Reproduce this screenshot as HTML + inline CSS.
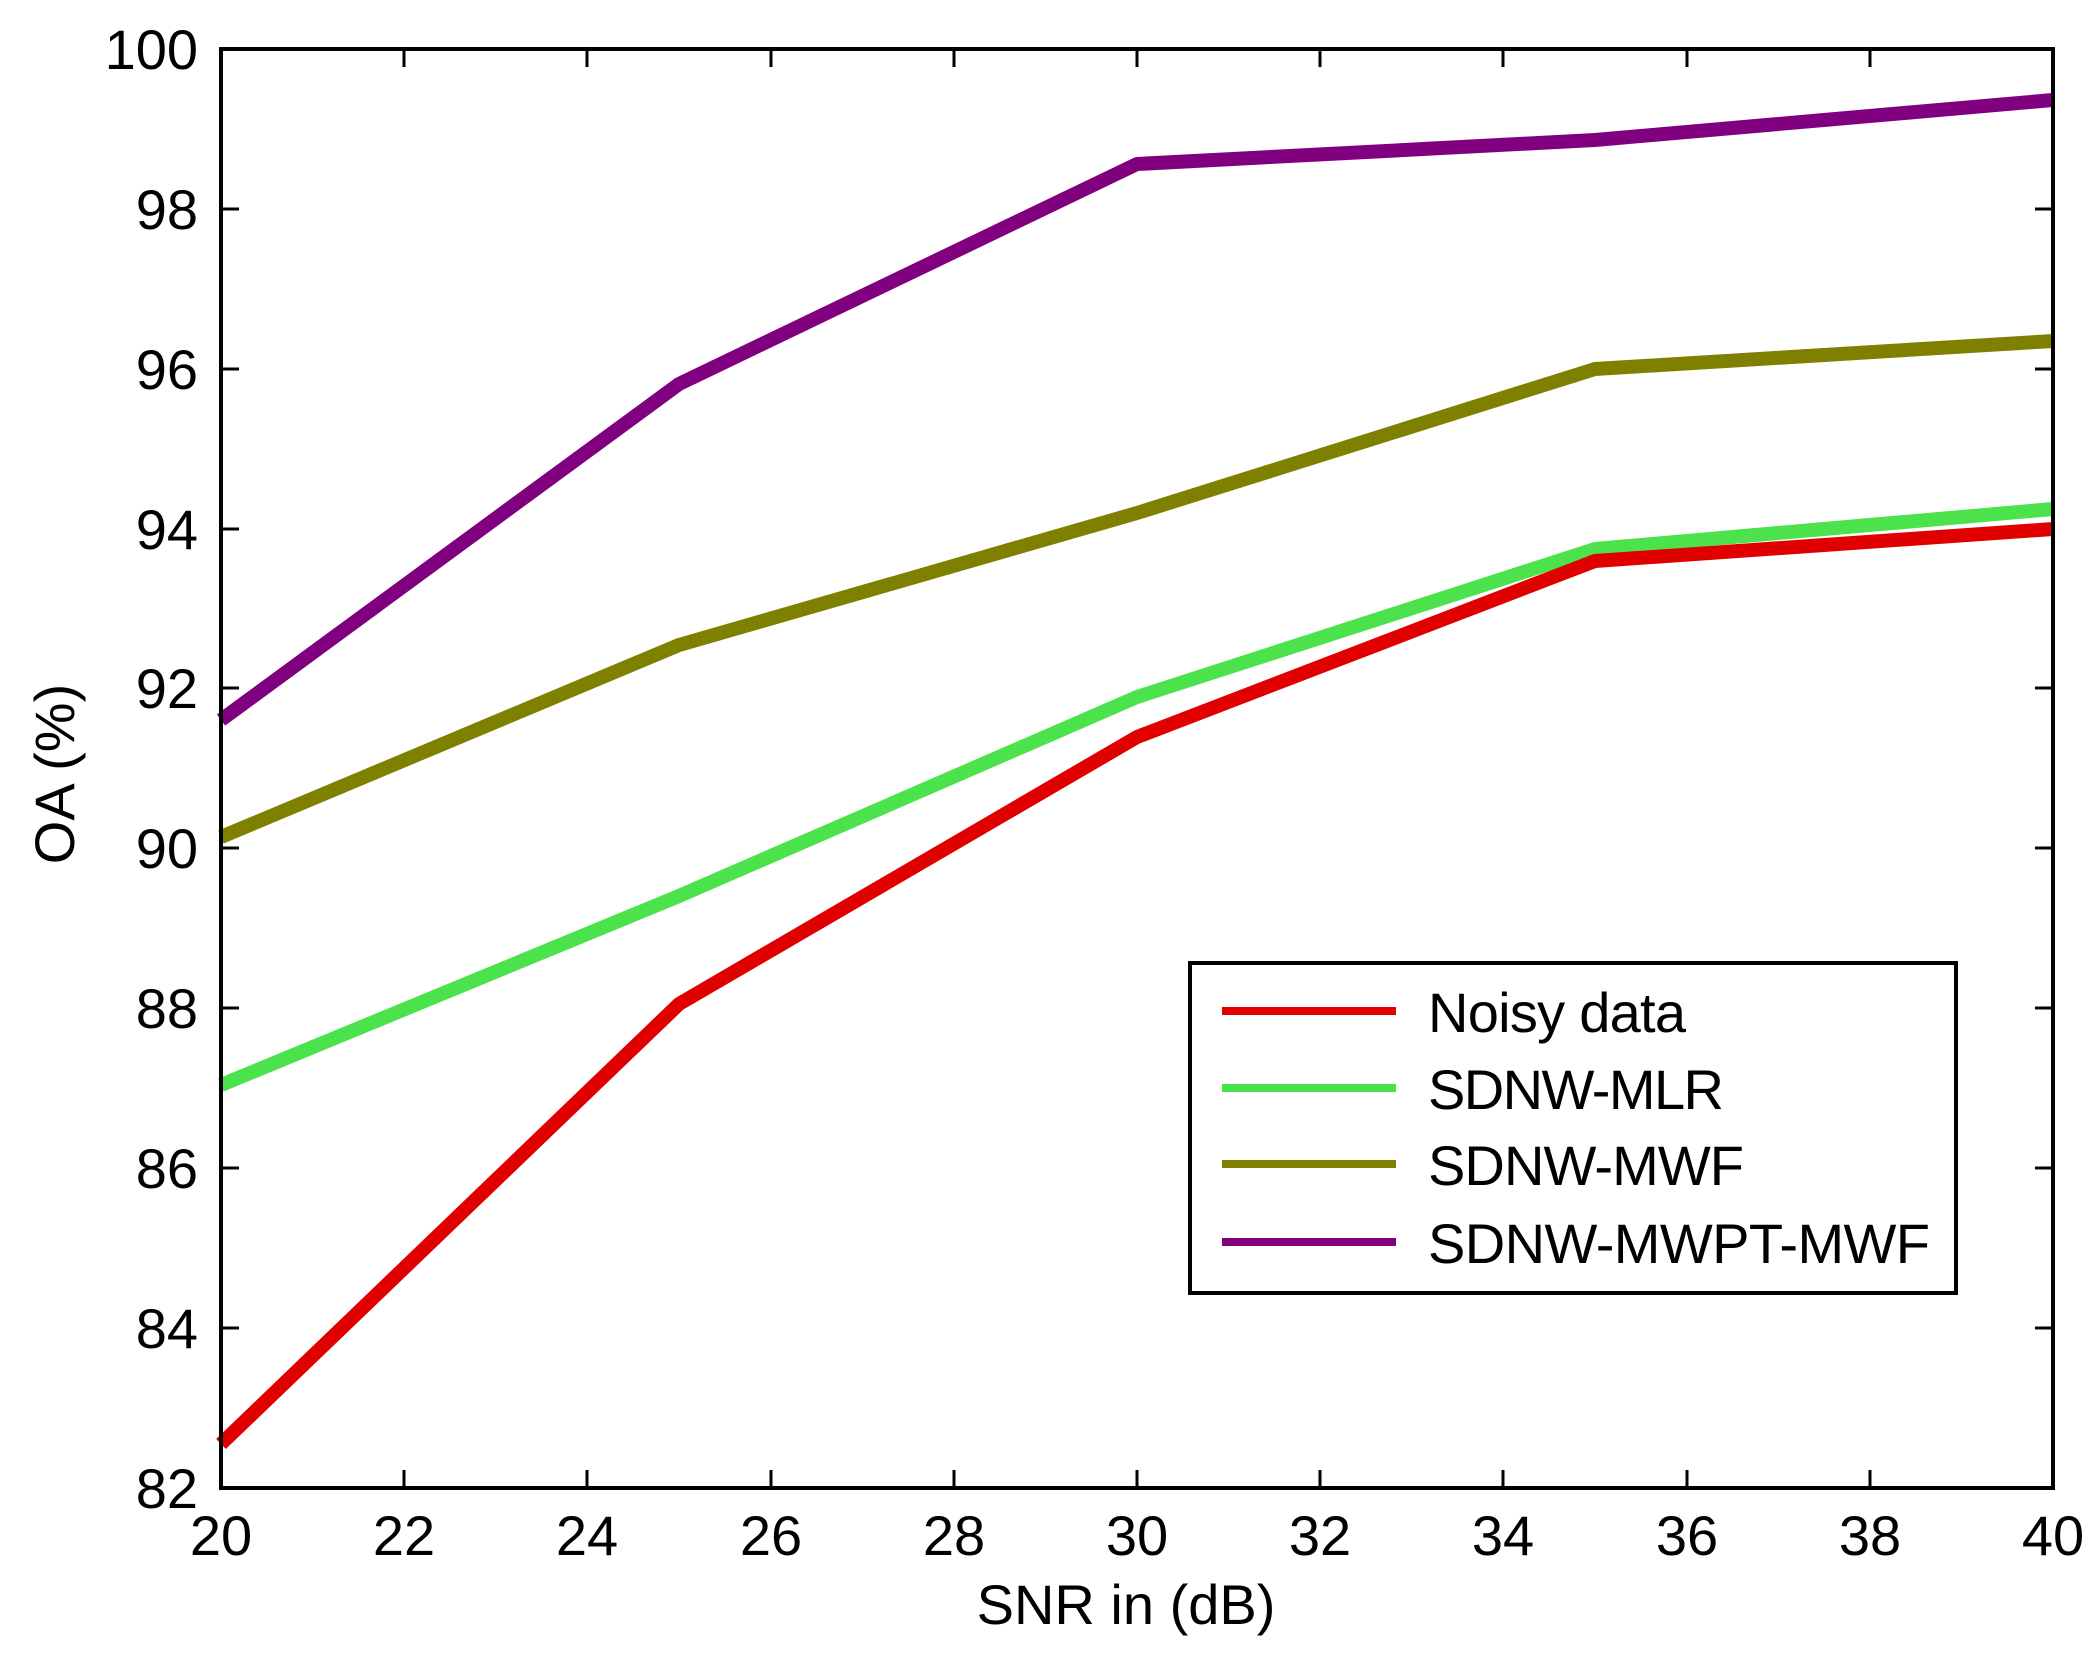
<!DOCTYPE html>
<html><head><meta charset="utf-8"><style>html,body{margin:0;padding:0;background:#fff}svg{display:block}</style></head>
<body>
<svg width="2094" height="1656" viewBox="0 0 2094 1656" xmlns="http://www.w3.org/2000/svg" font-family="Liberation Sans, sans-serif">
<rect width="2094" height="1656" fill="#fff"/>
<g stroke="#000" stroke-width="3">
<line x1="221" y1="1488" x2="221" y2="1470"/><line x1="404" y1="1488" x2="404" y2="1470"/><line x1="587" y1="1488" x2="587" y2="1470"/><line x1="771" y1="1488" x2="771" y2="1470"/><line x1="954" y1="1488" x2="954" y2="1470"/><line x1="1137" y1="1488" x2="1137" y2="1470"/><line x1="1320" y1="1488" x2="1320" y2="1470"/><line x1="1503" y1="1488" x2="1503" y2="1470"/><line x1="1687" y1="1488" x2="1687" y2="1470"/><line x1="1870" y1="1488" x2="1870" y2="1470"/>
<line x1="221" y1="209" x2="239" y2="209"/><line x1="221" y1="369" x2="239" y2="369"/><line x1="221" y1="529" x2="239" y2="529"/><line x1="221" y1="688" x2="239" y2="688"/><line x1="221" y1="848" x2="239" y2="848"/><line x1="221" y1="1008" x2="239" y2="1008"/><line x1="221" y1="1168" x2="239" y2="1168"/><line x1="221" y1="1328" x2="239" y2="1328"/>
<line x1="2053" y1="209" x2="2035" y2="209"/><line x1="2053" y1="369" x2="2035" y2="369"/><line x1="2053" y1="529" x2="2035" y2="529"/><line x1="2053" y1="688" x2="2035" y2="688"/><line x1="2053" y1="848" x2="2035" y2="848"/><line x1="2053" y1="1008" x2="2035" y2="1008"/><line x1="2053" y1="1168" x2="2035" y2="1168"/><line x1="2053" y1="1328" x2="2035" y2="1328"/>
<line x1="404" y1="49" x2="404" y2="67"/><line x1="587" y1="49" x2="587" y2="67"/><line x1="771" y1="49" x2="771" y2="67"/><line x1="954" y1="49" x2="954" y2="67"/><line x1="1137" y1="49" x2="1137" y2="67"/><line x1="1320" y1="49" x2="1320" y2="67"/><line x1="1503" y1="49" x2="1503" y2="67"/><line x1="1687" y1="49" x2="1687" y2="67"/><line x1="1870" y1="49" x2="1870" y2="67"/>
</g>
<g fill="none" stroke-width="14" stroke-linejoin="round">
<polyline stroke="#800080" points="221,720 679,384 1137,164 1595,140 2053,100"/>
<polyline stroke="#808000" points="221,837 679,645 1137,513 1595,369 2053,341"/>
<polyline stroke="#4ce24c" points="221,1085 679,896 1137,697 1595,549 2053,509"/>
<polyline stroke="#e00000" points="221,1444 679,1004 1137,737 1595,561 2053,529"/>
</g>
<rect x="221" y="49" width="1832" height="1439" fill="none" stroke="#000" stroke-width="4"/>
<g font-size="56" fill="#000" text-anchor="end">
<text x="198" y="69">100</text><text x="198" y="229">98</text><text x="198" y="389">96</text><text x="198" y="549">94</text><text x="198" y="708">92</text><text x="198" y="868">90</text><text x="198" y="1028">88</text><text x="198" y="1188">86</text><text x="198" y="1348">84</text><text x="198" y="1508">82</text>
</g>
<g font-size="56" fill="#000" text-anchor="middle">
<text x="221" y="1555">20</text><text x="404" y="1555">22</text><text x="587" y="1555">24</text><text x="771" y="1555">26</text><text x="954" y="1555">28</text><text x="1137" y="1555">30</text><text x="1320" y="1555">32</text><text x="1503" y="1555">34</text><text x="1687" y="1555">36</text><text x="1870" y="1555">38</text><text x="2053" y="1555">40</text>
<text x="1126" y="1624">SNR in (dB)</text>
<text transform="translate(74,774) rotate(-90)">OA (%)</text>
</g>
<rect x="1190" y="963" width="766" height="330" fill="#fff" stroke="#000" stroke-width="4"/>
<g stroke-width="8">
<line x1="1222" y1="1011" x2="1396" y2="1011" stroke="#e00000"/>
<line x1="1222" y1="1088" x2="1396" y2="1088" stroke="#4ce24c"/>
<line x1="1222" y1="1164" x2="1396" y2="1164" stroke="#808000"/>
<line x1="1222" y1="1242" x2="1396" y2="1242" stroke="#800080"/>
</g>
<g font-size="56" fill="#000">
<text x="1428" y="1032" textLength="258">Noisy data</text>
<text x="1428" y="1109" textLength="296">SDNW-MLR</text>
<text x="1428" y="1185" textLength="316">SDNW-MWF</text>
<text x="1428" y="1263" textLength="502">SDNW-MWPT-MWF</text>
</g>
</svg>
</body></html>
